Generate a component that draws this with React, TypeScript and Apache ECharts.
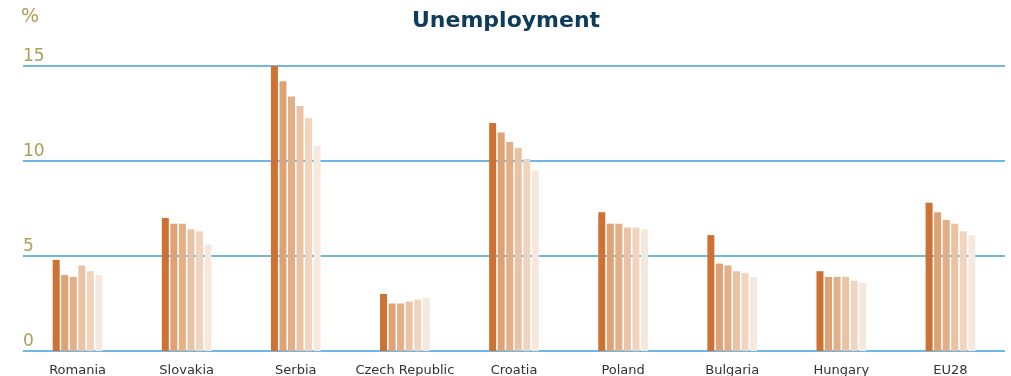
import React, { useEffect, useRef } from "react";
import * as echarts from "echarts";

const categories = ["Romania", "Slovakia", "Serbia", "Czech Republic", "Croatia", "Poland", "Bulgaria", "Hungary", "EU28"];
const seriesNames = ["2016", "2017", "2018", "2019", "2020", "2021"];
const s1 = [4.8, 7.0, 15.0, 3.0, 12.0, 7.3, 6.1, 4.2, 7.8];
const s2 = [4.0, 6.7, 14.2, 2.5, 11.5, 6.7, 4.6, 3.9, 7.3];
const s3 = [3.9, 6.7, 13.4, 2.5, 11.0, 6.7, 4.5, 3.9, 6.9];
const s4 = [4.5, 6.4, 12.9, 2.6, 10.7, 6.5, 4.2, 3.9, 6.7];
const s5 = [4.2, 6.3, 12.25, 2.7, 10.1, 6.5, 4.1, 3.7, 6.3];
const s6 = [4.0, 5.6, 10.8, 2.8, 9.5, 6.4, 3.9, 3.6, 6.1];
const seriesValues = [s1, s2, s3, s4, s5, s6];
const colors = ["#CD7232", "#DEA274", "#E3AF86", "#EAC3A5", "#F0D4BD", "#F5E8DD"];
const yTicks = { min: 0, max: 15, interval: 5 };

const FONT = "'DejaVu Sans', 'Open Sans', sans-serif";

export default function App() {
  const ref = useRef<HTMLDivElement>(null);
  useEffect(() => {
    if (!ref.current) return;
    const chart = echarts.init(ref.current, null, { renderer: "svg" });
    chart.setOption({
      animation: false,
      title: {
        text: "Unemployment",
        left: 407,
        top: 3,
        textStyle: { fontFamily: FONT, fontSize: 22, fontWeight: "bold", color: "#0C3B5B" },
      },
      graphic: [
        {
          type: "text",
          left: 21,
          top: 5,
          style: { text: "%", fontFamily: FONT, fontSize: 19, fill: "#A9A05A" },
        },
      ],
      grid: { left: 23, right: 6, top: 66, bottom: 25, containLabel: false },
      xAxis: {
        type: "category",
        data: categories,
        axisLine: { show: false },
        axisTick: { show: false },
        axisLabel: { color: "#333333", fontFamily: FONT, fontSize: 13, margin: 12, interval: 0 },
      },
      yAxis: {
        type: "value",
        min: yTicks.min,
        max: yTicks.max,
        interval: yTicks.interval,
        axisLine: { show: false },
        axisTick: { show: false },
        splitLine: { lineStyle: { color: "#3F9FDB", width: 1.5 } },
        axisLabel: {
          inside: true,
          margin: 0,
          verticalAlign: "bottom",
          padding: [0, 0, 3, 0],
          color: "#A9A05A",
          fontFamily: FONT,
          fontSize: 17,
        },
      },
      series: seriesValues.map((vals, i) => ({
        name: seriesNames[i],
        type: "bar",
        data: vals,
        barWidth: 7,
        barGap: "22%",
        itemStyle: { color: colors[i] },
      })),
    });
    return () => chart.dispose();
  }, []);
  return <div ref={ref} style={{ position: "fixed", left: 0, top: 0, width: 1011, height: 376 }} />;
}
